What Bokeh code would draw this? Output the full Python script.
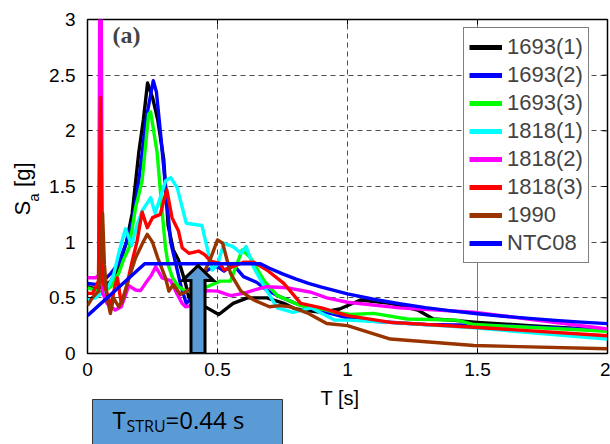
import math
from bokeh.plotting import figure
from bokeh.layouts import column, row
from bokeh.models import Range1d, Span, Legend, LegendItem, FixedTicker, Label
from bokeh.core.properties import value
from bokeh.embed import file_html
from bokeh.resources import INLINE

# ---------------- data ----------------
T_1693_1 = [0, 0.03, 0.06, 0.09, 0.12, 0.15, 0.172, 0.197, 0.215, 0.231, 0.25, 0.27, 0.293, 0.31, 0.33,
            0.35, 0.377, 0.39, 0.43, 0.46, 0.505, 0.56, 0.615, 0.69, 0.755, 0.8, 0.9, 0.97, 1.05, 1.165,
            1.27, 1.33, 1.4, 1.5, 1.7, 2.0]
SA_1693_1 = [0.6, 0.58, 0.6, 0.65, 0.78, 1.0, 1.26, 1.8, 2.1, 2.43, 2.3, 2.1, 1.75, 1.15, 0.93,
             0.84, 0.63, 0.5, 0.44, 0.41, 0.35, 0.45, 0.50, 0.50, 0.45, 0.40, 0.37, 0.40, 0.48, 0.45,
             0.39, 0.31, 0.30, 0.28, 0.25, 0.21]

T_1693_2 = [0, 0.03, 0.06, 0.09, 0.12, 0.15, 0.175, 0.2, 0.225, 0.253, 0.265, 0.28, 0.3, 0.32, 0.34,
            0.36, 0.38, 0.40, 0.43, 0.47, 0.5, 0.525, 0.56, 0.6, 0.65, 0.69, 0.73, 0.8, 0.9, 1.0,
            1.1, 1.3, 1.6, 2.0]
SA_1693_2 = [0.63, 0.62, 0.65, 0.72, 0.81, 1.0, 1.2, 1.6, 2.1, 2.45, 2.35, 2.0, 1.5, 1.0, 0.8,
             0.6, 0.45, 0.5, 0.7, 0.76, 0.78, 0.74, 0.80, 0.69, 0.64, 0.57, 0.52, 0.45, 0.38, 0.32,
             0.29, 0.26, 0.25, 0.21]

T_1693_3 = [0, 0.03, 0.06, 0.09, 0.12, 0.14, 0.16, 0.185, 0.21, 0.235, 0.243, 0.268, 0.281, 0.29, 0.30,
            0.31, 0.327, 0.35, 0.38, 0.42, 0.46, 0.51, 0.55, 0.595, 0.627, 0.68, 0.73, 0.82, 0.9, 0.95,
            1.01, 1.1, 1.23, 1.42, 1.486, 2.0]
SA_1693_3 = [0.59, 0.57, 0.55, 0.6, 0.72, 0.85, 0.95, 1.31, 1.55, 2.15, 2.17, 1.8, 1.44, 1.2, 0.95,
             0.8, 0.68, 0.6, 0.56, 0.55, 0.6, 0.65, 0.65, 0.93, 0.86, 0.65, 0.52, 0.43, 0.40, 0.37,
             0.35, 0.36, 0.31, 0.30, 0.26, 0.2]

T_1818_1 = [0, 0.03, 0.06, 0.08, 0.1, 0.12, 0.146, 0.17, 0.19, 0.21, 0.243, 0.26, 0.28, 0.30, 0.32,
            0.345, 0.36, 0.38, 0.44, 0.46, 0.48, 0.5, 0.525, 0.56, 0.59, 0.61, 0.64, 0.68, 0.73, 0.79,
            0.86, 0.95, 1.0, 1.165, 1.486, 2.0]
SA_1818_1 = [0.49, 0.5, 0.55, 0.6, 0.7, 0.9, 1.12, 0.97, 1.15, 1.28, 1.40, 1.26, 1.4, 1.55, 1.58,
             1.49, 1.35, 1.17, 1.15, 0.95, 0.75, 0.8, 0.99, 0.96, 0.9, 0.96, 0.77, 0.6, 0.41, 0.37,
             0.41, 0.30, 0.30, 0.28, 0.23, 0.13]

T_1818_2 = [0, 0.03, 0.043, 0.05, 0.057, 0.075, 0.107, 0.13, 0.159, 0.185, 0.204, 0.223, 0.245, 0.262, 0.287,
            0.319, 0.338, 0.364, 0.377, 0.40, 0.43, 0.46, 0.5, 0.55, 0.6, 0.64, 0.69, 0.77, 0.86, 0.92,
            1.0, 1.2, 1.486, 2.0]
SA_1818_2 = [0.68, 0.68, 0.7, 5.0, 0.55, 0.45, 0.39, 0.42, 0.61, 0.57, 0.565, 0.63, 0.7, 0.78, 0.68,
             0.655, 0.565, 0.45, 0.42, 0.43, 0.5, 0.565, 0.56, 0.52, 0.54, 0.57, 0.6, 0.59, 0.55, 0.50,
             0.46, 0.41, 0.37, 0.22]

T_1818_3 = [0, 0.02, 0.042, 0.05, 0.058, 0.075, 0.09, 0.105, 0.115, 0.13, 0.15, 0.173, 0.19, 0.21, 0.23,
            0.25, 0.28, 0.30, 0.305, 0.325, 0.35, 0.364, 0.39, 0.427, 0.45, 0.473, 0.51, 0.525, 0.56, 0.6,
            0.64, 0.69, 0.755, 0.82, 0.9, 1.0, 1.165, 1.486, 2.0]
SA_1818_3 = [0.54, 0.54, 0.65, 2.3, 0.65, 0.54, 0.42, 0.6, 0.68, 0.45, 0.6, 0.84, 1.0, 1.27, 1.13,
             1.22, 1.25, 1.43, 1.47, 1.22, 1.1, 0.95, 0.9, 0.92, 0.89, 0.83, 0.81, 0.75, 0.78, 0.82,
             0.82, 0.75, 0.63, 0.45, 0.41, 0.34, 0.28, 0.236, 0.16]

T_1990 = [0, 0.018, 0.043, 0.052, 0.058, 0.065, 0.075, 0.088, 0.10, 0.12, 0.135, 0.16, 0.185, 0.216, 0.23,
          0.25, 0.27, 0.30, 0.313, 0.33, 0.357, 0.384, 0.435, 0.473, 0.5, 0.52, 0.55, 0.59, 0.64, 0.70,
          0.74, 0.78, 0.85, 0.92, 1.0, 1.165, 1.486, 2.0]
SA_1990 = [0.43, 0.5, 0.56, 0.9, 1.26, 0.8, 0.5, 0.36, 0.5, 0.42, 0.48, 0.68, 0.86, 1.01, 1.07,
           1.0, 0.86, 0.68, 0.56, 0.62, 0.53, 0.56, 0.66, 0.85, 1.02, 0.99, 0.72, 0.56, 0.48, 0.42,
           0.43, 0.42, 0.36, 0.27, 0.25, 0.13, 0.072, 0.042]

T_NTC08 = [0, 0.22, 0.665, 0.7, 0.75, 0.8, 0.85, 0.9, 1.0, 1.1, 1.2, 1.3, 1.4, 1.5, 1.6, 1.7, 1.8, 1.9, 2.0]
SA_NTC08 = [0.34, 0.806, 0.806, 0.766, 0.715, 0.67, 0.63, 0.596, 0.536, 0.487, 0.447, 0.412, 0.383,
            0.357, 0.335, 0.315, 0.298, 0.282, 0.268]

SERIES_NAMES = ["1693(1)", "1693(2)", "1693(3)", "1818(1)", "1818(2)", "1818(3)", "1990", "NTC08"]
SERIES_T = [T_1693_1, T_1693_2, T_1693_3, T_1818_1, T_1818_2, T_1818_3, T_1990, T_NTC08]
SERIES_SA = [SA_1693_1, SA_1693_2, SA_1693_3, SA_1818_1, SA_1818_2, SA_1818_3, SA_1990, SA_NTC08]

X_TICKS = [0, 0.5, 1, 1.5, 2]
X_TICK_LABELS = ["0", "0.5", "1", "1.5", "2"]
Y_TICKS = [0, 0.5, 1, 1.5, 2, 2.5, 3]
Y_TICK_LABELS = ["0", "0.5", "1", "1.5", "2", "2.5", "3"]

T_STRU = 0.44          # value written in the box
ARROW_T = 0.425        # where the arrow is drawn in the picture
ARROW_HEAD_BASE = 0.655
ARROW_TIP = 0.79

# ---------------- styles / layout ----------------
COLORS = ["#000000", "#0000FF", "#00FF00", "#00FFFF", "#FF00FF", "#FF0000", "#993300", "#0000FF"]
FONT = "Liberation Sans"
BOX_FONT = "Open Sans"
W, H = 610, 444
FL, FR, FT, FB = 87, 607, 19, 353      # plot frame in page pixels
LEFT_W = 44                            # narrow strip holding the y label
TOP_H = 385                            # height of the chart row
XMIN, XMAX, YMIN, YMAX = 0, 2, 0, 3
TICK_PX = 5


def blank(width, height, x0, y0):
    """A figure without axes whose data units are page pixels (y downwards)."""
    f = figure(width=width, height=height, output_backend="svg", toolbar_location=None,
               x_range=Range1d(x0, x0 + width), y_range=Range1d(y0 + height, y0),
               min_border=0, min_border_left=0, min_border_right=0, min_border_top=0,
               min_border_bottom=0)
    f.axis.visible = False
    f.grid.visible = False
    f.outline_line_color = None
    f.background_fill_color = "white"
    f.border_fill_color = "white"
    return f


# ---------------- main chart ----------------
p = figure(width=W - LEFT_W, height=TOP_H, output_backend="svg", toolbar_location=None,
           x_range=Range1d(XMIN, XMAX), y_range=Range1d(YMIN, YMAX),
           min_border_left=FL - LEFT_W, min_border_right=W - FR, min_border_top=FT,
           min_border_bottom=TOP_H - FB)
p.background_fill_color = "white"
p.border_fill_color = "white"
p.outline_line_color = "black"
p.outline_line_width = 1.5

for ax, ticks, labels in ((p.xaxis[0], X_TICKS, X_TICK_LABELS), (p.yaxis[0], Y_TICKS, Y_TICK_LABELS)):
    ax.ticker = FixedTicker(ticks=ticks)
    ax.major_label_overrides = {t: l for t, l in zip(ticks, labels)}
    ax.major_tick_in = TICK_PX
    ax.major_tick_out = 0
    ax.minor_tick_line_color = None
    ax.axis_line_color = None
    ax.major_tick_line_color = "black"
    ax.major_label_text_font = FONT
    ax.major_label_text_font_size = "19px"
    ax.major_label_text_color = "black"
p.xaxis.major_label_standoff = 9
p.yaxis.major_label_standoff = 12

# tick marks on the top and right edges of the box
tick_dy = TICK_PX / (FB - FT) * (YMAX - YMIN)
tick_dx = TICK_PX / (FR - FL) * (XMAX - XMIN)
p.segment(x0=X_TICKS, x1=X_TICKS, y0=[YMAX] * len(X_TICKS), y1=[YMAX - tick_dy] * len(X_TICKS),
          line_color="black", line_width=1)
p.segment(x0=[XMAX] * len(Y_TICKS), x1=[XMAX - tick_dx] * len(Y_TICKS), y0=Y_TICKS, y1=Y_TICKS,
          line_color="black", line_width=1)

p.xgrid.ticker = FixedTicker(ticks=[0.5, 1])
p.ygrid.ticker = FixedTicker(ticks=[0.5, 1, 1.5, 2, 2.5])
for g in (p.xgrid[0], p.ygrid[0]):
    g.grid_line_color = "#4d4d4d"
    g.grid_line_dash = "5 4"
    g.grid_line_width = 1
p.add_layout(Span(location=1.5, dimension="height", line_color="#777777", line_width=1, level="underlay"))

for t, sa, c in zip(SERIES_T, SERIES_SA, COLORS):
    p.line(t, sa, line_color=c, line_width=3.4, line_join="round")

sw, hw = 0.027, 0.06
arrow_x = [ARROW_T - sw, ARROW_T - sw, ARROW_T - hw, ARROW_T, ARROW_T + hw, ARROW_T + sw, ARROW_T + sw]
arrow_y = [0, ARROW_HEAD_BASE, ARROW_HEAD_BASE, ARROW_TIP, ARROW_HEAD_BASE, ARROW_HEAD_BASE, 0]
p.patch(arrow_x, arrow_y, fill_color="#5B9BD5", line_color="black", line_width=3, line_join="miter")

items = []
nan = float("nan")
for name, c in zip(SERIES_NAMES, COLORS):
    r = p.line([nan], [nan], line_color=c, line_width=5)
    items.append(LegendItem(label=name, renderers=[r]))
legend = Legend(items=items, location=(463 - FL, FB - 263), margin=0, padding=5, spacing=0,
                label_height=28, glyph_height=28, glyph_width=33, label_standoff=5,
                label_text_font=FONT, label_text_font_size="22px",
                border_line_color="black", border_line_width=1, background_fill_alpha=1)
p.add_layout(legend)

p.add_layout(Label(x=XMIN + (112 - FL) / (FR - FL) * (XMAX - XMIN),
                   y=YMIN + (FB - 34) / (FB - FT) * (YMAX - YMIN),
                   text="(a)", text_font="Liberation Serif", text_font_style="bold",
                   text_font_size="24px", text_baseline="middle"))

# ---------------- y label strip ----------------
lf = blank(LEFT_W, TOP_H, 0, 0)
lf.text(x=[22], y=[226], text=["S"], angle=math.pi / 2, text_font=value(FONT),
        text_font_size=value("22px"), text_baseline="middle", text_align="left", text_color="black")
lf.text(x=[33], y=[210], text=["a"], angle=math.pi / 2, text_font=value(FONT),
        text_font_size=value("15px"), text_baseline="middle", text_align="left", text_color="black")
lf.text(x=[22], y=[193], text=["[g]"], angle=math.pi / 2, text_font=value(FONT),
        text_font_size=value("22px"), text_baseline="middle", text_align="left", text_color="black")

# ---------------- bottom strip: x label + T_STRU box ----------------
bf = blank(W, H - TOP_H, 0, TOP_H)
bf.text(x=[339.5], y=[397], text=["T [s]"], text_font=value(FONT), text_font_size=value("20px"),
        text_align="center", text_baseline="middle", text_color="black")
bf.quad(left=[92], right=[282], top=[399], bottom=[H + 10], fill_color="#5B9BD5",
        line_color="#333333", line_width=1)
bf.text(x=[112], y=[419], text=["T"], text_font=value(BOX_FONT), text_font_size=value("24px"),
        text_baseline="middle", text_align="left", text_color="black")
bf.text(x=[126], y=[425], text=["STRU"], text_font=value(BOX_FONT), text_font_size=value("16px"),
        text_baseline="middle", text_align="left", text_color="black")
bf.text(x=[165], y=[419], text=["=%.2f s" % T_STRU], text_font=value(BOX_FONT),
        text_font_size=value("24px"), text_baseline="middle", text_align="left", text_color="black")

layout = column(row(lf, p, spacing=0), bf, spacing=0)
open("out.html", "w").write(file_html(layout, INLINE))
